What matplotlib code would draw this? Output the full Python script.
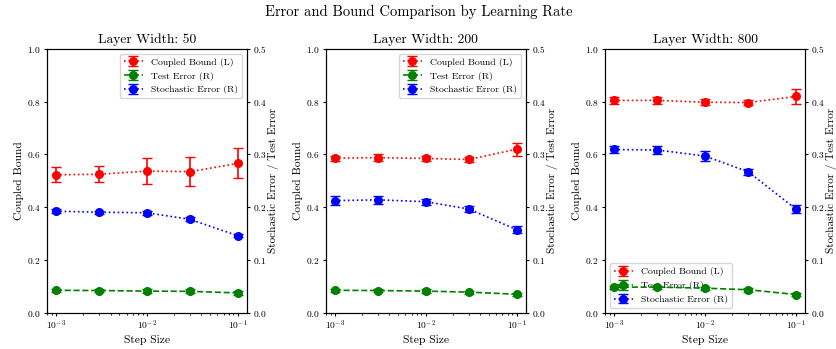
import matplotlib
matplotlib.use('Agg')
import matplotlib.pyplot as plt

plt.rcParams['font.family'] = 'cmr10'
plt.rcParams['mathtext.fontset'] = 'cm'
plt.rcParams['axes.formatter.use_mathtext'] = True
plt.rcParams['xtick.major.size'] = 2.5
plt.rcParams['ytick.major.size'] = 2.5
plt.rcParams['xtick.minor.size'] = 1.5
plt.rcParams['xtick.major.pad'] = 2
plt.rcParams['ytick.major.pad'] = 2
plt.rcParams['axes.labelpad'] = 2

step_sizes = [1e-3, 3e-3, 1e-2, 3e-2, 1e-1]
widths = [50, 200, 800]

# coupled bound, left axis
bound = [
	[0.523, 0.525, 0.537, 0.535, 0.566],
	[0.586, 0.588, 0.585, 0.581, 0.620],
	[0.805, 0.805, 0.798, 0.797, 0.820],
]
bound_err = [
	[0.028, 0.030, 0.048, 0.056, 0.057],
	[0.010, 0.012, 0.010, 0.010, 0.025],
	[0.012, 0.013, 0.012, 0.010, 0.030],
]
# test error, right axis
test = [
	[0.0425, 0.0420, 0.0410, 0.0405, 0.0375],
	[0.0425, 0.0420, 0.0410, 0.0390, 0.0350],
	[0.0485, 0.0485, 0.0465, 0.0435, 0.0345],
]
test_err = [
	[0.003, 0.003, 0.004, 0.004, 0.003],
	[0.003, 0.003, 0.003, 0.003, 0.003],
	[0.003, 0.003, 0.003, 0.004, 0.003],
]
# stochastic error, right axis
stoch = [
	[0.1925, 0.1905, 0.1895, 0.1770, 0.1460],
	[0.2125, 0.2140, 0.2105, 0.1965, 0.1575],
	[0.3095, 0.3085, 0.2970, 0.2670, 0.1965],
]
stoch_err = [
	[0.004, 0.003, 0.004, 0.004, 0.003],
	[0.008, 0.007, 0.006, 0.006, 0.007],
	[0.006, 0.007, 0.009, 0.006, 0.007],
]
legend_locs = ['upper right', 'upper right', 'lower left']

fig = plt.figure(figsize=(8.37, 3.49), dpi=100)
lefts = [0.0558, 0.389, 0.7228]

for i in range(len(widths)):
	ax1 = fig.add_axes([lefts[i], 0.104, 0.239, 0.7556])
	ax2 = ax1.twinx()
	h1 = ax1.errorbar(step_sizes, bound[i], yerr=bound_err[i], fmt='o:', color='red',
		markersize=5.5, capsize=3.5, lw=1.2, label='Coupled Bound (L)')
	h2 = ax2.errorbar(step_sizes, test[i], yerr=test_err[i], fmt='o--', color='green',
		markersize=5.5, capsize=3.5, lw=1.2, label='Test Error (R)')
	h3 = ax2.errorbar(step_sizes, stoch[i], yerr=stoch_err[i], fmt='o:', color='blue',
		markersize=5.5, capsize=3.5, lw=1.2, label='Stochastic Error (R)')
	ax1.set_xscale('log')
	ax1.set_ylim(0, 1)
	ax2.set_ylim(0, 0.5)
	ax1.set_title('Layer Width: ' + str(widths[i]), fontsize=9.8, pad=4)
	ax1.set_xlabel('Step Size', fontsize=8.3)
	ax1.set_ylabel('Coupled Bound', fontsize=8.3)
	ax2.set_ylabel('Stochastic Error / Test Error', fontsize=8.1, labelpad=1)
	ax1.tick_params(labelsize=6.8)
	ax2.tick_params(labelsize=6.8)
	ax1.legend([h1, h2, h3], [h.get_label() for h in (h1, h2, h3)],
		loc=legend_locs[i], fontsize=7)

fig.suptitle('Error and Bound Comparison by Learning Rate', fontsize=10.5, y=0.985)
fig.savefig('out.png', dpi=100)
